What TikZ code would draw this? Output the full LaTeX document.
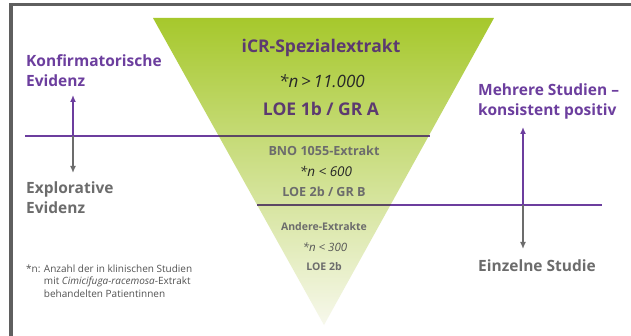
\documentclass[tikz,border=0pt]{standalone}
\usepackage{fontspec}
\setmainfont{Open Sans}
\usetikzlibrary{arrows.meta}
\definecolor{lila}{RGB}{108,62,158}
\definecolor{lilaDark}{RGB}{92,58,112}
\definecolor{lineIn}{RGB}{92,72,100}
\definecolor{grau}{RGB}{108,108,108}
\definecolor{dunkel}{RGB}{40,40,40}
\definecolor{rahmen}{RGB}{95,95,95}
\definecolor{gruenTop}{RGB}{166,200,44}
\definecolor{gruenBot}{RGB}{247,248,236}
\begin{document}
\begin{tikzpicture}[x=1pt,y=-1pt,
  lbl/.style={inner sep=0pt,anchor=west,align=left,font=\fontsize{15.5}{20}\selectfont\bfseries},
  ttl/.style={inner sep=0pt,font=\fontsize{17.5}{20}\selectfont\bfseries},
  mid/.style={inner sep=0pt,font=\fontsize{12.6}{14}\selectfont\bfseries},
  sml/.style={inner sep=0pt,font=\fontsize{10.5}{12}\selectfont\bfseries},
  foot/.style={inner sep=0pt,anchor=west,align=left,font=\fontsize{10}{12.5}\selectfont},
  divline/.style={line width=2pt,draw=lila},
  arr/.style={line width=1.6pt,-{Latex[length=7pt,width=6pt]}}
]
\fill[white] (0,0) rectangle (631,336);
\useasboundingbox (0,0) rectangle (631,336);
% frame
\fill[rahmen] (9,3) rectangle (631,6.5);
\fill[rahmen] (9,3) rectangle (12.5,336);
% triangle
\shade[top color=gruenTop,bottom color=gruenBot] (153,18) -- (494,18) -- (324,325) -- cycle;
% coordinates
\coordinate (l1a) at (25,136);
\coordinate (l1b) at (430,136);
\coordinate (l2a) at (257,205);
\coordinate (l2b) at (602,205);
\coordinate (c1) at (73,136);
\coordinate (c1u) at (73,95);
\coordinate (c1d) at (73,173);
\coordinate (c2) at (523,205);
\coordinate (c2u) at (523,127);
\coordinate (c2d) at (523,249);
% divider lines
\draw[divline] (l1a) -- (l1b);
\draw[divline] (l2a) -- (l2b);
\begin{scope}
  \clip (153,18) -- (494,18) -- (324,325) -- cycle;
  \draw[divline,draw=lineIn] (l1a) -- (l1b);
  \draw[divline,draw=lineIn] (l2a) -- (l2b);
\end{scope}
% arrows
\draw[arr,lila] (c1) -- (c1u);
\draw[arr,grau] (c1) -- (c1d);
\draw[arr,lila] (c2) -- (c2u);
\draw[arr,grau] (c2) -- (c2d);
% side labels
\node[lbl,text=lila] (konf) at (26,71) {Konfirmatorische\\Evidenz};
\node[lbl,text=grau] (expl) at (26,198) {Explorative\\Evidenz};
\node[lbl,text=lila] (mehr) at (478,101) {Mehrere Studien –\\konsistent positiv};
\node[lbl,text=grau] (einz) at (478,266) {Einzelne Studie};
% triangle texts
\node[ttl,text=lilaDark] (t1) at (321,48) {iCR-Spezialextrakt};
\node[inner sep=0pt,text=dunkel,font=\fontsize{17}{20}\selectfont\itshape] (t2) at (322,81) {*n\,>\,11.000};
\node[ttl,text=lilaDark] (t3) at (321,109) {LOE 1b / GR A};
\node[mid,text=grau] (m1) at (324,151) {BNO 1055-Extrakt};
\node[inner sep=0pt,text=dunkel,font=\fontsize{13.5}{14}\selectfont\itshape] (m2) at (326,171) {*n < 600};
\node[mid,text=grau] (m3) at (324,192) {LOE 2b / GR B};
\node[sml,text=grau] (s1) at (324,227) {Andere-Extrakte};
\node[inner sep=0pt,text=grau!80!black,font=\fontsize{11.5}{12}\selectfont\itshape] (s2) at (325,247) {*n < 300};
\node[sml,text=grau] (s3) at (324,267) {LOE 2b};
% footnote
\node[foot,text=dunkel!80] (fn) at (26,281) {*n: Anzahl der in klinischen Studien\\\hphantom{*n: }mit \textit{Cimicifuga-racemosa}-Extrakt\\\hphantom{*n: }behandelten Patientinnen};
\end{tikzpicture}
\end{document}
